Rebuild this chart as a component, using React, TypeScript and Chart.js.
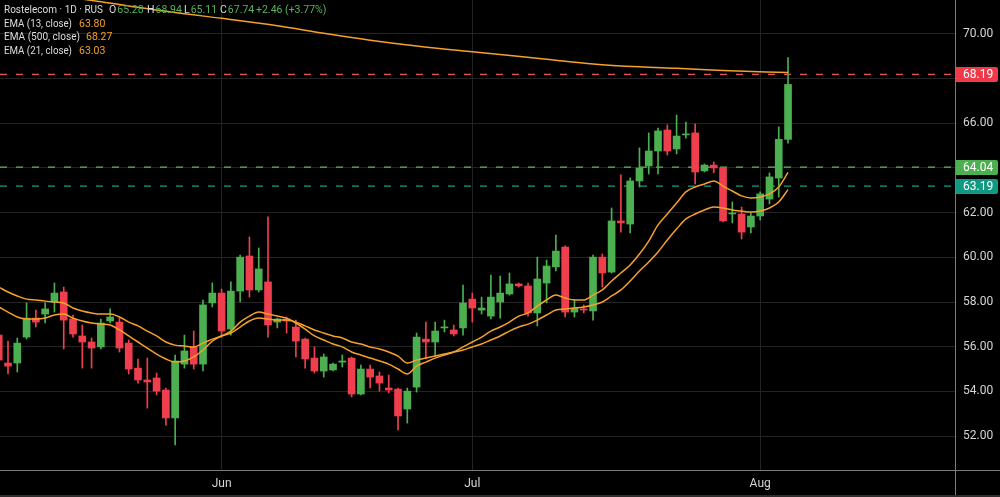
import React, { useEffect, useRef } from "react";
import { Chart, registerables } from "chart.js";

Chart.register(...registerables);

// ---- Data ----
const opens = [
  56.52, 55.27, 55.27, 56.43, 57.28, 57.46, 58.0, 58.45, 57.24, 56.48,
  56.21, 55.99, 57.15, 57.1, 56.16, 55.04, 54.51, 54.6, 54.06, 52.81,
  55.22, 55.99, 55.22, 57.96, 58.4, 56.79, 58.49, 60.06, 58.54, 58.9,
  57.1, 57.24, 56.88, 56.34, 55.49, 54.91, 54.96, 55.31, 55.49, 53.88,
  55.0, 54.69, 54.15, 54.1, 53.21, 54.19, 56.34, 56.21, 56.84, 56.75,
  56.84, 58.13, 57.64, 57.37, 58.0, 58.36, 58.81, 58.72, 57.51, 58.85,
  59.57, 60.46, 57.55, 57.69, 57.6, 60.01, 59.34, 61.63, 61.49, 63.42,
  64.09, 64.76, 65.7, 64.85, 65.48, 65.57, 63.87, 64.13, 64.0, 61.94,
  61.94, 61.36, 61.85, 62.61, 63.55, 65.28,
];
const highs = [
  56.66, 56.25, 56.39, 57.96, 57.64, 57.96, 58.85, 58.67, 57.42, 56.97,
  56.39, 57.24, 57.69, 57.28, 56.3, 55.45, 55.49, 54.82, 54.15, 55.63,
  56.52, 56.7, 58.09, 58.85, 58.58, 58.9, 60.1, 60.91, 60.42, 61.81,
  57.28, 57.33, 57.19, 56.39, 55.99, 55.67, 55.27, 55.63, 55.54, 55.18,
  55.18, 54.87, 54.73, 54.15, 54.15, 56.61, 57.1, 57.1, 57.19, 56.97,
  58.76, 58.4, 58.22, 59.21, 59.16, 59.3, 58.85, 58.85, 60.01, 59.88,
  61.0, 60.51, 58.09, 57.87, 60.1, 60.15, 62.21, 63.69, 63.55, 64.9,
  65.57, 65.79, 65.93, 66.37, 66.06, 65.97, 64.18, 64.27, 64.04, 62.48,
  62.25, 61.99, 62.93, 63.78, 65.84, 68.94,
];
const lows = [
  55.13, 54.78, 54.87, 56.34, 56.88, 57.06, 57.55, 55.9, 56.43, 55.04,
  55.04, 55.9, 57.06, 55.76, 54.78, 54.37, 53.25, 53.84, 52.49, 51.6,
  55.04, 55.0, 54.91, 57.78, 56.43, 56.52, 58.0, 58.22, 58.45, 56.43,
  56.84, 56.61, 55.54, 55.04, 54.82, 54.64, 54.91, 55.09, 53.75, 53.84,
  54.15, 54.01, 53.93, 52.27, 52.58, 53.97, 55.45, 55.58, 56.66, 56.48,
  56.52, 57.1, 57.46, 57.24, 57.28, 58.31, 58.67, 57.37, 56.93, 57.96,
  59.39, 57.33, 57.33, 57.51, 57.19, 58.67, 59.3, 61.13, 61.09, 63.15,
  63.73, 63.73, 64.58, 64.63, 65.34, 63.28, 63.82, 63.78, 61.58, 61.54,
  60.82, 61.09, 61.67, 62.39, 62.7, 65.11,
];
const closes = [
  55.4, 55.13, 56.16, 57.28, 57.1, 57.69, 58.4, 57.19, 56.57, 56.21,
  55.94, 57.06, 57.33, 55.94, 55.0, 54.51, 54.42, 54.01, 52.81, 55.36,
  55.81, 55.22, 57.87, 58.4, 56.7, 58.49, 60.01, 58.54, 59.48, 56.97,
  57.24, 57.15, 56.25, 55.45, 54.91, 55.54, 55.22, 55.36, 53.88, 55.0,
  54.64, 54.37, 54.06, 52.9, 54.01, 56.43, 56.21, 56.7, 56.88, 56.57,
  57.96, 57.73, 57.73, 58.22, 58.4, 58.81, 58.72, 57.51, 59.03, 59.61,
  60.28, 57.55, 57.73, 57.64, 60.01, 59.3, 61.63, 61.54, 63.42, 64.0,
  64.76, 65.66, 64.76, 65.43, 65.52, 63.82, 64.13, 64.0, 61.63, 61.99,
  61.13, 61.85, 62.84, 63.6, 65.28, 67.74,
];
const ema13 = [
  57.78, 57.55, 57.33, 57.24, 57.24, 57.28, 57.42, 57.46, 57.28, 57.15,
  57.06, 57.01, 56.97, 56.75, 56.48, 56.21, 55.94, 55.67, 55.45, 55.31,
  55.36, 55.54, 55.85, 56.25, 56.48, 56.7, 57.1, 57.37, 57.55, 57.46,
  57.37, 57.28, 57.06, 56.79, 56.48, 56.3, 56.12, 55.99, 55.76, 55.63,
  55.49, 55.36, 55.22, 55.0, 54.78, 55.13, 55.31, 55.49, 55.63, 55.76,
  55.99, 56.21, 56.43, 56.7, 56.88, 57.1, 57.37, 57.51, 57.82, 58.09,
  58.31, 58.18, 58.09, 58.09, 58.31, 58.54, 58.94, 59.3, 59.66, 60.15,
  60.73, 61.45, 61.94, 62.43, 62.93, 63.15, 63.28, 63.42, 63.19, 62.97,
  62.75, 62.66, 62.7, 62.84, 63.15, 63.8,
];
const ema21 = [
  58.67, 58.45, 58.27, 58.13, 58.09, 58.04, 58.0, 57.96, 57.73, 57.6,
  57.51, 57.46, 57.46, 57.33, 57.1, 56.93, 56.7, 56.48, 56.21, 56.07,
  56.03, 55.99, 56.16, 56.34, 56.48, 56.61, 56.88, 57.15, 57.28, 57.24,
  57.19, 57.19, 57.1, 56.93, 56.75, 56.61, 56.48, 56.39, 56.21, 56.12,
  55.99, 55.9, 55.76, 55.58, 55.27, 55.4, 55.49, 55.58, 55.67, 55.76,
  55.85, 55.99, 56.12, 56.3, 56.48, 56.7, 56.88, 57.01, 57.19, 57.42,
  57.64, 57.69, 57.73, 57.78, 57.87, 58.0, 58.27, 58.54, 58.94, 59.39,
  59.79, 60.24, 60.78, 61.27, 61.72, 61.94, 62.12, 62.25, 62.21, 62.12,
  62.07, 62.03, 62.07, 62.21, 62.48, 63.03,
];
const ema500Idx = [0, 5, 11, 19, 24, 30, 35, 40, 45, 51, 59, 64, 69, 73, 78, 85];
const ema500Vals = [
  72.1, 71.8, 71.44, 70.96, 70.7, 70.37, 70.03, 69.72, 69.46, 69.2, 68.87,
  68.66, 68.53, 68.46, 68.36, 68.27,
];
const yTicks = [52, 54, 56, 58, 60, 62, 64, 66, 68, 70];
const monthIdx = [24, 51, 82];
const monthLabels = ["Jun", "Jul", "Aug"];
const priceLineValues = [68.19, 64.04, 63.19];

// ---- Styles ----
const X_MIN = 0.1385;
const X_MAX = 102.98;
const Y_MIN = 50.48;
const Y_MAX = 71.52;
const UP = "#4caf50";
const DOWN = "#ef3f4e";
const ORANGE = "#f5a12a";
const priceLineColors = ["#e8505e", "#5fb862", "#1a9c86"];
const badgeColors = ["#f03a4a", "#4caf50", "#0f9a84"];
const FONT = "Roboto, 'Noto Sans', sans-serif";

export default function App() {
  const ref = useRef<HTMLCanvasElement | null>(null);

  useEffect(() => {
    const canvas = ref.current;
    if (!canvas) return;
    const idx = opens.map((_, i) => i);
    const colors = idx.map((i) => (closes[i] >= opens[i] ? UP : DOWN));

    const overlay = {
      id: "overlay",
      afterDraw(chart: any) {
        const ctx = chart.ctx;
        const area = chart.chartArea;
        const ys = chart.scales.y;
        ctx.save();
        // separators
        ctx.strokeStyle = "#7c7c7c";
        ctx.lineWidth = 1;
        ctx.beginPath();
        ctx.moveTo(0, area.bottom + 0.5);
        ctx.lineTo(chart.width, area.bottom + 0.5);
        ctx.moveTo(area.right + 0.5, 0);
        ctx.lineTo(area.right + 0.5, chart.height);
        ctx.stroke();
        ctx.fillStyle = "#2e2e2e";
        ctx.fillRect(0, chart.height - 2, chart.width, 2);

        // price badges
        ctx.font = `12px ${FONT}`;
        ctx.textBaseline = "middle";
        ctx.textAlign = "left";
        priceLineValues.forEach((v, k) => {
          const py = ys.getPixelForValue(v);
          const x0 = area.right + 1;
          const w = 42;
          const h = 15;
          const r = 2;
          const y0 = Math.round(py - h / 2);
          ctx.fillStyle = badgeColors[k];
          ctx.beginPath();
          ctx.moveTo(x0, y0);
          ctx.lineTo(x0 + w - r, y0);
          ctx.quadraticCurveTo(x0 + w, y0, x0 + w, y0 + r);
          ctx.lineTo(x0 + w, y0 + h - r);
          ctx.quadraticCurveTo(x0 + w, y0 + h, x0 + w - r, y0 + h);
          ctx.lineTo(x0, y0 + h);
          ctx.closePath();
          ctx.fill();
          ctx.fillStyle = "#ffffff";
          ctx.fillText(v.toFixed(2), area.right + 8, y0 + h / 2 + 0.5);
        });

        // legend
        ctx.font = `10.5px ${FONT}`;
        const white = "#dcdcdc";
        const green = "#56b45b";
        const put = (t: string, x: number, y: number, c: string, mw?: number) => {
          ctx.fillStyle = c;
          const w = ctx.measureText(t).width;
          if (mw && w > mw) {
            ctx.fillText(t, x, y, mw);
            return x + mw;
          }
          ctx.fillText(t, x, y);
          return x + w;
        };
        let y = 10;
        put("Rostelecom · 1D · RUS", 4, y, white, 99);
        let x = put("O", 109, y, white);
        put(opens[85].toFixed(2), x + 1, y, green);
        x = put("H", 147, y, white);
        put(highs[85].toFixed(2), x + 1, y, green);
        x = put("L", 184, y, white);
        put(lows[85].toFixed(2), x + 1, y, green);
        x = put("C", 220, y, white);
        put(closes[85].toFixed(2), x + 1, y, green);
        const ch = closes[85] - closes[84];
        const pct = (ch / closes[84]) * 100;
        put(`+${ch.toFixed(2)} (+${pct.toFixed(2)}%)`, 256, y, green);

        y = 24;
        put("EMA (13, close)", 4, y, white, 68);
        put(ema13[85].toFixed(2), 79, y, ORANGE);
        y = 37.5;
        put("EMA (500, close)", 4, y, white, 76);
        put(ema500Vals[ema500Vals.length - 1].toFixed(2), 86, y, ORANGE);
        y = 51;
        put("EMA (21, close)", 4, y, white, 68);
        put(ema21[85].toFixed(2), 79, y, ORANGE);
        ctx.restore();
      },
    };

    const priceLineSets = priceLineValues.map((v, k) => ({
      type: "line",
      data: [
        { x: X_MIN, y: v },
        { x: X_MAX, y: v },
      ],
      borderColor: priceLineColors[k],
      borderWidth: 1.3,
      borderDash: [7, 9],
      pointRadius: 0,
      order: 10,
    }));

    const chart = new Chart(canvas, {
      type: "bar",
      data: {
        datasets: [
          ...priceLineSets,
          {
            type: "bar",
            data: idx.map((i) => ({ x: i, y: [lows[i], highs[i]] })),
            backgroundColor: colors,
            barThickness: 1,
            grouped: false,
            minBarLength: 1,
            order: 4,
          },
          {
            type: "bar",
            data: idx.map((i) => ({ x: i, y: [opens[i], closes[i]] })),
            backgroundColor: colors,
            barThickness: 7,
            grouped: false,
            minBarLength: 1,
            order: 3,
          },
          {
            type: "line",
            data: idx.map((i) => ({ x: i, y: ema21[i] })),
            borderColor: ORANGE,
            borderWidth: 1.5,
            pointRadius: 0,
            cubicInterpolationMode: "monotone",
            order: 1,
          },
          {
            type: "line",
            data: idx.map((i) => ({ x: i, y: ema13[i] })),
            borderColor: ORANGE,
            borderWidth: 1.5,
            pointRadius: 0,
            cubicInterpolationMode: "monotone",
            order: 1,
          },
          {
            type: "line",
            data: ema500Idx.map((i, k) => ({ x: i, y: ema500Vals[k] })),
            borderColor: ORANGE,
            borderWidth: 1.5,
            pointRadius: 0,
            cubicInterpolationMode: "monotone",
            order: 1,
          },
        ] as any,
      },
      options: {
        responsive: false,
        animation: false,
        devicePixelRatio: 1,
        layout: { padding: 0 },
        plugins: { legend: { display: false }, tooltip: { enabled: false } },
        scales: {
          x: {
            type: "linear",
            min: X_MIN,
            max: X_MAX,
            offset: false,
            grid: { color: "#242424", offset: false, drawTicks: false },
            border: { display: false },
            ticks: {
              color: "#d6d6d6",
              font: { size: 12, family: FONT },
              padding: 7,
              autoSkip: false,
              maxRotation: 0,
              callback: (_v: any, i: number) => monthLabels[i],
            },
            afterBuildTicks: (s: any) => {
              s.ticks = monthIdx.map((v) => ({ value: v }));
            },
            afterFit: (s: any) => {
              s.height = 27;
              s.paddingLeft = 0;
              s.paddingRight = 0;
            },
          },
          y: {
            type: "linear",
            position: "right",
            min: Y_MIN,
            max: Y_MAX,
            grid: { color: "#242424", drawTicks: false },
            border: { display: false },
            ticks: {
              color: "#d6d6d6",
              font: { size: 12, family: FONT },
              padding: 8,
              callback: (v: any) => Number(v).toFixed(2),
            },
            afterBuildTicks: (s: any) => {
              s.ticks = yTicks.map((v) => ({ value: v }));
            },
            afterFit: (s: any) => {
              s.width = 45;
              s.paddingTop = 0;
              s.paddingBottom = 0;
            },
          },
        },
      } as any,
      plugins: [overlay],
    });
    return () => chart.destroy();
  }, []);

  return (
    <div
      style={{
        position: "fixed",
        left: 0,
        top: 0,
        width: 1000,
        height: 497,
        background: "#000",
      }}
    >
      <canvas ref={ref} width={1000} height={497} style={{ display: "block" }} />
    </div>
  );
}
